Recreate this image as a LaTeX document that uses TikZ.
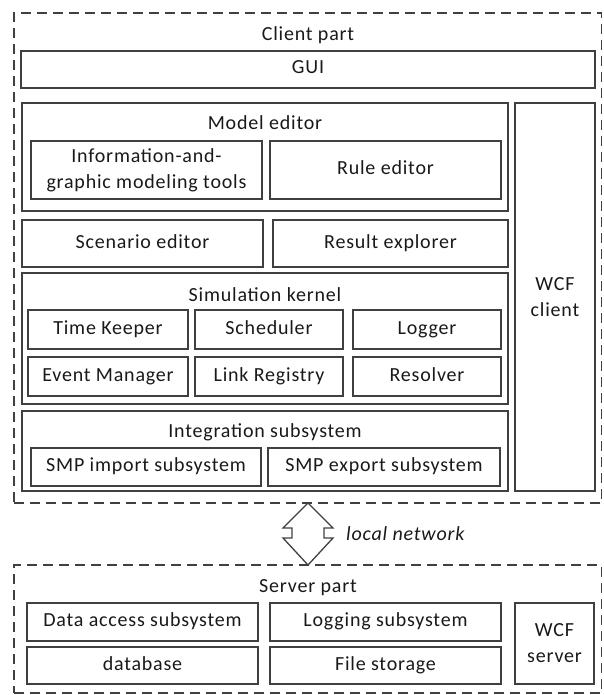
\documentclass[tikz,border=0pt]{standalone}
\usepackage{fontspec}
\setmainfont{Carlito}[LetterSpace=4.0]
\begin{document}
\begin{tikzpicture}[x=1pt,y=-1pt,
  lc/.style={draw=black!75, line width=1.3pt},
  box2/.style={lc, inner sep=0pt, align=center, text=black!90,
    font=\fontsize{20}{26}\selectfont},
  box/.style={box2, text height=13pt, text depth=4pt},
  cont/.style={lc, inner sep=0pt},
  ttl/.style={inner sep=0pt, text=black!90, text height=13pt, text depth=4pt,
    font=\fontsize{20}{26}\selectfont},
  dbox/.style={draw=black!75, line width=1.3pt, dash pattern=on 10pt off 6pt, inner sep=0pt}
]
\useasboundingbox (0,0) rectangle (603,695);
\newcommand\bx[7][box]{\node[#1, minimum width={#5-#3}, minimum height={#6-#4}] (#2) at ({(#3+#5)/2},{(#4+#6)/2}) {#7};}

% client part
\bx[dbox]{client}{14}{13}{601.5}{503}{}
\node[ttl] (clientt) at (308,36) {Client part};
\bx{gui}{21}{51}{595}{88}{GUI}

\bx[cont]{model}{22}{103}{508}{211}{}
\node[ttl] (modelt) at (265,125) {Model editor};
\bx[box2]{info}{31}{141}{262}{199}{Information-and-\\graphic modeling tools}
\bx{rule}{270}{141}{501}{199}{Rule editor}

\bx[box2]{wcfc}{515}{103}{595}{491}{WCF\\client}

\bx{scen}{22}{220}{263}{267}{Scenario editor}
\bx{res}{273}{220}{508}{267}{Result explorer}

\bx[cont]{sim}{22}{273}{508}{404}{}
\node[ttl] (simt) at (265,297) {Simulation kernel};
\bx{tk}{28}{310}{188}{349}{Time Keeper}
\bx{sch}{195}{310}{343}{349}{Scheduler}
\bx{log}{353}{310}{501}{349}{Logger}
\bx{em}{28}{357}{188}{396}{Event Manager}
\bx{lr}{195}{357}{343}{396}{Link Registry}
\bx{rs}{353}{357}{501}{396}{Resolver}

\bx[cont]{integ}{22}{411}{508}{491}{}
\node[ttl] (integt) at (265,433) {Integration subsystem};
\bx{smpi}{31}{448}{261}{486}{SMP import subsystem}
\bx{smpe}{268}{448}{500}{486}{SMP export subsystem}

% network arrow
\coordinate (atop) at (308,503);
\coordinate (abot) at (308,565);
\draw[lc, line join=miter] (atop) -- (333,528) -- (324,528) -- (324,538) -- (333,538) -- (abot)
  -- (283,538) -- (292,538) -- (292,528) -- (283,528) -- cycle;
\node[ttl, anchor=west, font=\fontsize{20}{26}\selectfont\itshape] (net) at (346,536) {local network};

% server part
\bx[dbox]{server}{14}{565}{601.5}{693}{}
\node[ttl] (servert) at (308,588) {Server part};
\bx{das}{27}{603}{258}{641}{Data access subsystem}
\bx{lgs}{270}{603}{501}{641}{Logging subsystem}
\bx{db}{27}{647}{258}{684}{database}
\bx{fs}{270}{647}{501}{684}{File storage}
\bx[box2]{wcfs}{515}{603}{594}{684}{WCF\\server}
\end{tikzpicture}
\end{document}
